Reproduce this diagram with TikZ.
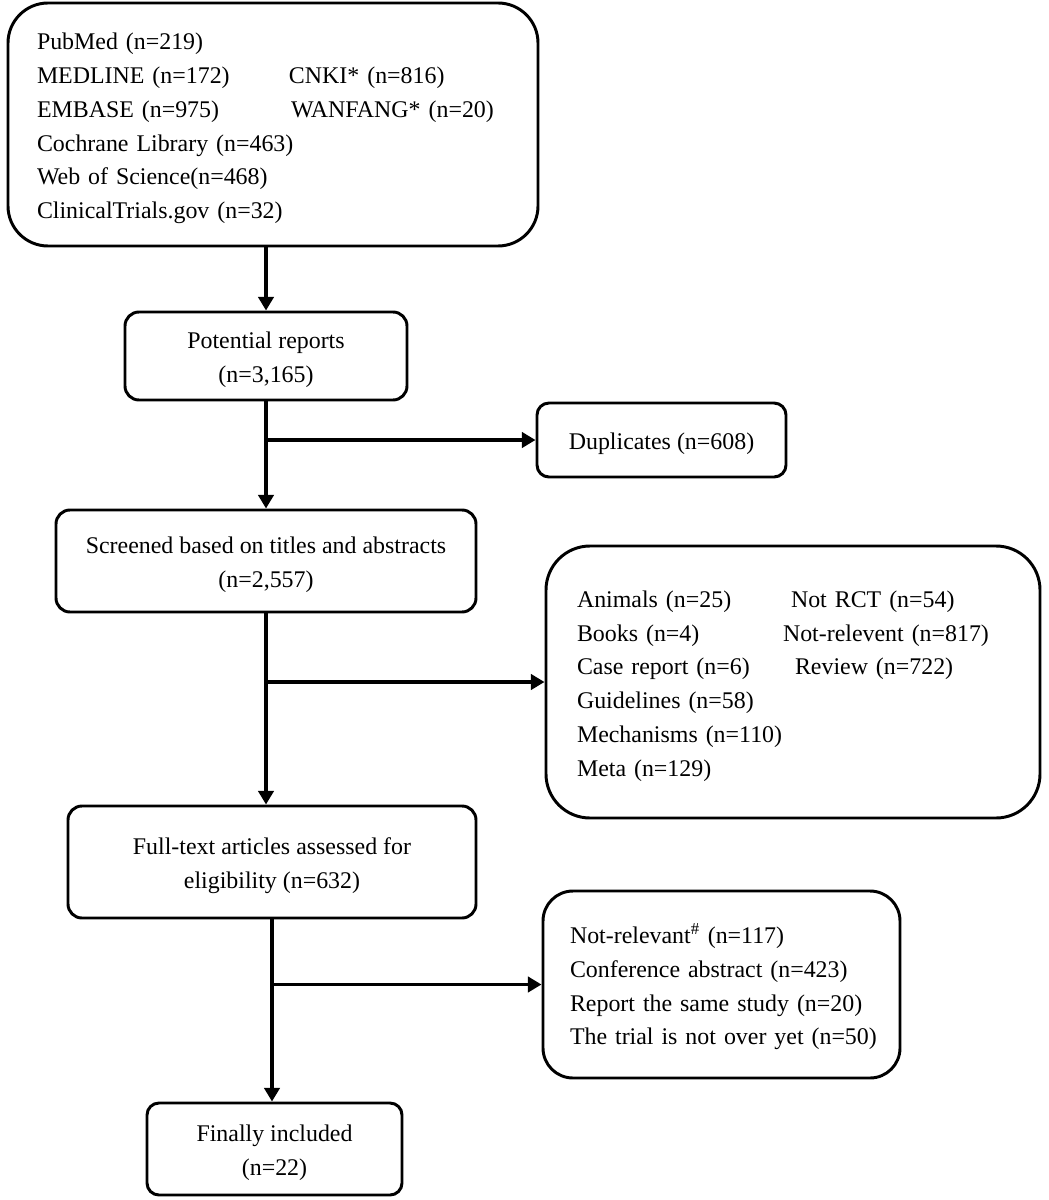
\documentclass[tikz,border=0pt]{standalone}
\usepackage{fontspec}
\setmainfont{Liberation Serif}
\usetikzlibrary{arrows.meta}
\newcommand\upgap{\rule{0pt}{17.5pt}}

\begin{document}
\begin{tikzpicture}[
  stage/.style={draw, line width=2.1pt, rounded corners=0.35cm, align=center,
    inner sep=0pt, font=\fontsize{17}{24}\selectfont},
  listbox/.style={draw, line width=2.1pt, align=left, inner ysep=0pt,
    font=\fontsize{17}{24}\selectfont},
  flow/.style={line width=2.8pt, -{Triangle[length=0.34cm,width=0.38cm]}}
]
\useasboundingbox (0,0) rectangle (26.2,-30);

% sources
\node[listbox, rounded corners=1cm, inner xsep=0.725cm, text width=11.8cm,
  minimum height=6.075cm] (top) at (6.825,-3.1125) {\upgap PubMed (n=219)\\
\makebox[6.3cm][l]{MEDLINE (n=172)}CNKI* (n=816)\\
\makebox[6.35cm][l]{EMBASE (n=975)}WANFANG* (n=20)\\
Cochrane Library (n=463)\\
Web of Science(n=468)\\
ClinicalTrials.gov (n=32)};

\node[stage, minimum width=7.05cm, minimum height=2.2cm] (pot) at (6.65,-8.9)
  {\upgap Potential reports\\(n=3,165)};
\node[stage, rounded corners=0.3cm, minimum width=6.225cm, minimum height=1.85cm] (dup)
  at (16.5375,-11) {\upgap Duplicates (n=608)};
\node[stage, minimum width=10.5cm, minimum height=2.55cm] (scr) at (6.65,-14.025)
  {\upgap Screened based on titles and abstracts\\(n=2,557)};

% excluded on titles and abstracts
\node[listbox, rounded corners=1.1cm, inner xsep=0.775cm, text width=10.8cm,
  minimum height=6.8cm] (excl) at (19.825,-17.05) {\upgap
\makebox[5.35cm][l]{Animals (n=25)}Not RCT (n=54)\\
\makebox[5.15cm][l]{Books (n=4)}Not-relevent (n=817)\\
\makebox[5.45cm][l]{Case report (n=6)}Review (n=722)\\
Guidelines (n=58)\\
Mechanisms (n=110)\\
Meta (n=129)};

\node[stage, minimum width=10.2cm, minimum height=2.8cm] (full) at (6.8,-21.55)
  {\upgap Full-text articles assessed for\\eligibility (n=632)};

% excluded on full text
\node[listbox, rounded corners=0.75cm, inner xsep=0.675cm, text width=7.575cm,
  minimum height=4.675cm] (notr) at (18.0375,-24.6125) {\upgap
Not-relevant\textsuperscript{\#} (n=117)\\
Conference abstract (n=423)\\
Report the same study (n=20)\\
\makebox[7.5cm][l]{The trial is not over yet (n=50)}};

\node[stage, rounded corners=0.3cm, minimum width=6.375cm, minimum height=2.3cm] (fin)
  at (6.8625,-28.725) {\upgap Finally included\\(n=22)};

\draw[flow] (pot.north |- top.south) -- (pot.north);
\draw[flow] (pot.south) -- (scr.north);
\draw[flow] (pot.south |- dup.west) -- (dup.west);
\draw[flow] (scr.south) -- (scr.south |- full.north);
\draw[flow] (scr.south |- excl.west) -- (excl.west);
\draw[flow] (full.south) -- (full.south |- fin.north);
\draw[flow] (full.south |- notr.west) -- (notr.west);

\end{tikzpicture}
\end{document}
